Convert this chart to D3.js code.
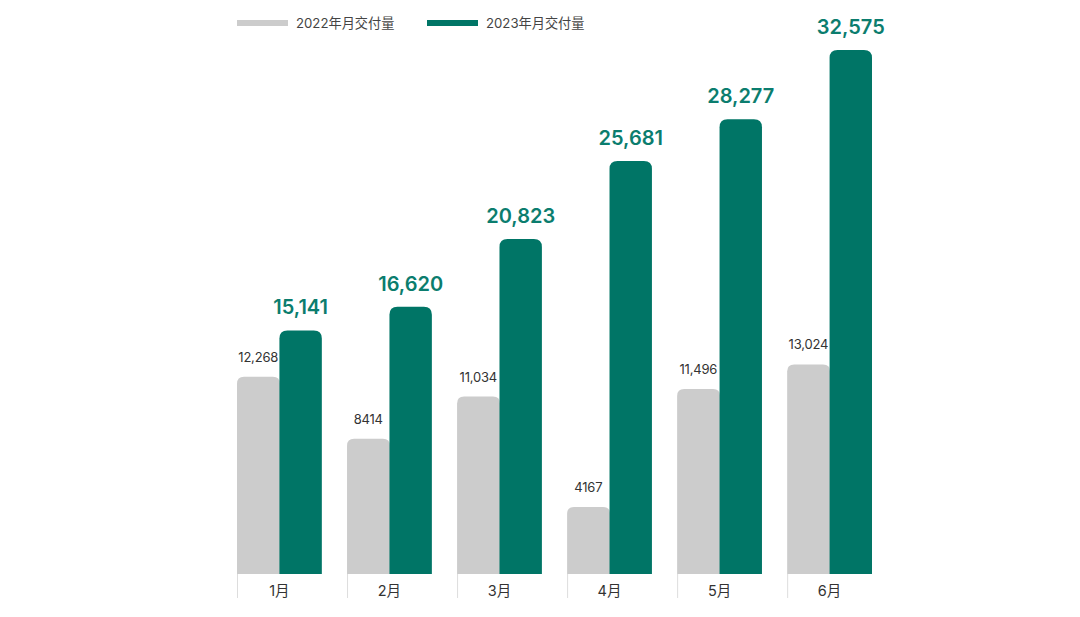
<!DOCTYPE html>
<html>
<head>
<meta charset="utf-8">
<script src="https://cdn.jsdelivr.net/npm/d3@7"></script>
<style>
  body { margin: 0; background: #fff; }
  svg { display: block; font-family: Inter, "Noto Sans CJK SC", sans-serif; }
</style>
</head>
<body>
<div id="chart"></div>
<script>
const months = ["1月", "2月", "3月", "4月", "5月", "6月"];
const series = ["2022年月交付量", "2023年月交付量"];
const values2022 = [12268, 8414, 11034, 4167, 11496, 13024];
const values2023 = [15141, 16620, 20823, 25681, 28277, 32575];
const labels2022 = ["12,268", "8414", "11,034", "4167", "11,496", "13,024"];
const labels2023 = ["15,141", "16,620", "20,823", "25,681", "28,277", "32,575"];

const width = 1080;
const height = 617;
const grey = "#cccccc";
const green = "#007566";

const svg = d3.select("#chart").append("svg")
  .attr("width", width)
  .attr("height", height);

const x = d3.scaleBand().domain(months).range([237, 872]).paddingInner(0.229);
const xs = d3.scaleBand().domain([0, 1]).range([0, x.bandwidth()]);
const y = d3.scaleLinear().domain([0, 32575]).range([574, 50]);

// bar with rounded top corners
function topRounded(x0, y0, w, h, r) {
  r = Math.min(r, h, w / 2);
  return `M${x0},${y0 + h}V${y0 + r}Q${x0},${y0} ${x0 + r},${y0}` +
    `H${x0 + w - r}Q${x0 + w},${y0} ${x0 + w},${y0 + r}V${y0 + h}Z`;
}

const groups = svg.selectAll("g.month")
  .data(months)
  .join("g")
  .attr("class", "month")
  .attr("transform", d => `translate(${x(d)},0)`);

// 2022 bars
groups.append("path")
  .attr("fill", grey)
  .attr("d", (d, i) => topRounded(xs(0), y(values2022[i]), xs.bandwidth() + 0.5, y(0) - y(values2022[i]), 7));

// 2023 bars
groups.append("path")
  .attr("fill", green)
  .attr("d", (d, i) => topRounded(xs(1), y(values2023[i]), xs.bandwidth(), y(0) - y(values2023[i]), 8));

groups.append("text")
  .attr("x", xs(0) + xs.bandwidth() / 2)
  .attr("y", (d, i) => y(values2022[i]) - 15)
  .attr("text-anchor", "middle")
  .attr("font-size", 13)
  .attr("letter-spacing", -0.2)
  .attr("fill", "#333")
  .text((d, i) => labels2022[i]);

groups.append("text")
  .attr("x", xs(1) + xs.bandwidth() / 2)
  .attr("y", (d, i) => y(values2023[i]) - 16)
  .attr("text-anchor", "middle")
  .attr("font-size", 20)
  .attr("font-weight", 600)
  .attr("fill", "#0b7d6e")
  .text((d, i) => labels2023[i]);

// x axis: separator ticks at group starts, no domain line
const axis = svg.append("g")
  .attr("transform", `translate(0,${y(0)})`);
axis.selectAll("line")
  .data(months)
  .join("line")
  .attr("x1", d => x(d) + 0.5)
  .attr("x2", d => x(d) + 0.5)
  .attr("y1", 0)
  .attr("y2", 24)
  .attr("stroke", "#dddddd")
  .attr("stroke-width", 1);
axis.selectAll("text")
  .data(months)
  .join("text")
  .attr("x", d => x(d) + x.bandwidth() / 2)
  .attr("y", 22)
  .attr("text-anchor", "middle")
  .attr("font-size", 14.5)
  .attr("fill", "#333")
  .text(d => d);

// legend
const legend = svg.append("g").attr("transform", "translate(237,0)");
const legendX = [0, 190];
const legendItems = legend.selectAll("g")
  .data(series)
  .join("g")
  .attr("transform", (d, i) => `translate(${legendX[i]},0)`);
legendItems.append("rect")
  .attr("x", 0)
  .attr("y", 20)
  .attr("width", 51)
  .attr("height", 6)
  .attr("fill", (d, i) => i === 0 ? grey : green);
legendItems.append("text")
  .attr("x", 59)
  .attr("y", 27.5)
  .attr("font-size", 13.2)
  .attr("fill", "#444")
  .text(d => d);
</script>
</body>
</html>
